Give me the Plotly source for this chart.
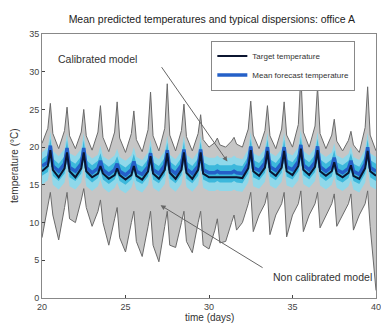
import plotly.graph_objects as go

# time grid: each day sampled at night, morning rise, midday peak, evening fall
days = list(range(20, 40))
phases = [0.0, 0.35, 0.5, 0.65]
t = [d + p for d in days for p in phases] + [40]

target = [
    16.8, 17.5, 19.6, 17.0,  16.0, 17.2, 19.3, 16.8,  16.0, 17.2, 19.3, 16.8,
    16.0, 16.5, 17.5, 16.5,  15.8, 16.3, 17.2, 16.3,  15.7, 16.3, 17.5, 16.2,
    15.7, 16.8, 18.8, 16.5,  15.8, 17.0, 19.2, 16.6,  15.8, 17.0, 19.3, 16.6,
    15.8, 17.0, 19.3, 16.5,  16.0, 16.0, 16.1, 16.0,  16.0, 16.0, 16.1, 16.0,
    15.9, 17.2, 19.6, 16.8,  16.2, 17.3, 19.5, 16.8,  16.2, 17.3, 19.5, 16.8,
    16.3, 17.5, 19.8, 17.0,  16.3, 17.4, 19.6, 16.8,  16.2, 16.8, 18.0, 16.5,
    16.0, 16.6, 17.6, 16.2,  15.8, 17.2, 19.5, 16.8,  16.2]

mean_forecast = [
    17.5, 18.0, 20.2, 17.5,  16.8, 17.8, 19.9, 17.3,  16.8, 17.8, 19.9, 17.3,
    16.6, 17.2, 18.2, 17.0,  16.4, 17.0, 17.8, 16.8,  16.3, 17.0, 18.1, 16.8,
    16.4, 17.4, 19.2, 17.0,  16.5, 17.6, 19.6, 17.1,  16.5, 17.6, 19.7, 17.1,
    16.5, 17.5, 19.7, 17.0,  16.6, 16.6, 16.8, 16.6,  16.6, 16.6, 16.8, 16.6,
    16.5, 17.8, 20.1, 17.3,  16.9, 17.9, 20.0, 17.4,  16.9, 17.9, 20.0, 17.4,
    17.0, 18.1, 20.3, 17.6,  17.0, 18.0, 20.1, 17.4,  16.8, 17.4, 18.6, 17.0,
    16.6, 17.2, 18.2, 16.8,  16.4, 17.8, 20.0, 17.3,  16.8]

calib_outer_hi = [
    19.3, 20.0, 22.0, 19.5,  18.8, 19.8, 21.8, 19.2,  18.8, 19.8, 21.8, 19.2,
    18.5, 19.0, 20.2, 18.8,  18.3, 18.9, 19.8, 18.7,  18.2, 18.9, 20.0, 18.7,
    18.3, 19.3, 21.0, 18.9,  18.4, 19.5, 21.5, 19.0,  18.4, 19.5, 21.5, 19.0,
    18.4, 19.4, 21.5, 18.9,  18.6, 18.6, 18.9, 18.6,  18.6, 18.6, 18.9, 18.6,
    18.4, 19.7, 22.0, 19.2,  18.8, 19.8, 21.9, 19.3,  18.8, 19.8, 21.9, 19.3,
    18.9, 20.0, 22.3, 19.5,  18.9, 19.9, 22.0, 19.3,  18.7, 19.3, 20.5, 18.9,
    18.5, 19.1, 20.1, 18.7,  18.3, 19.7, 21.9, 19.2,  18.7]

calib_outer_lo = [
    15.0, 15.6, 17.5, 15.0,  14.4, 15.3, 17.2, 14.8,  14.4, 15.3, 17.2, 14.8,
    14.2, 14.8, 15.7, 14.6,  14.0, 14.6, 15.3, 14.4,  13.9, 14.6, 15.6, 14.4,
    14.0, 15.0, 16.6, 14.6,  14.1, 15.1, 17.0, 14.7,  14.1, 15.1, 17.0, 14.7,
    14.1, 15.0, 17.0, 14.6,  14.2, 14.2, 14.4, 14.2,  14.2, 14.2, 14.4, 14.2,
    14.1, 15.3, 17.4, 14.8,  14.5, 15.4, 17.3, 14.9,  14.5, 15.4, 17.3, 14.9,
    14.6, 15.6, 17.6, 15.1,  14.6, 15.5, 17.4, 14.9,  14.4, 15.0, 16.1, 14.6,
    14.2, 14.8, 15.7, 14.4,  14.0, 15.3, 17.3, 14.8,  14.4]

calib_inner_hi = [
    18.4, 19.0, 21.1, 18.5,  17.8, 18.8, 20.9, 18.3,  17.8, 18.8, 20.9, 18.3,
    17.6, 18.2, 19.2, 18.0,  17.4, 18.0, 18.8, 17.8,  17.3, 18.0, 19.1, 17.8,
    17.4, 18.4, 20.2, 18.0,  17.5, 18.6, 20.6, 18.1,  17.5, 18.6, 20.7, 18.1,
    17.5, 18.5, 20.7, 18.0,  17.6, 17.6, 17.8, 17.6,  17.6, 17.6, 17.8, 17.6,
    17.5, 18.8, 21.1, 18.3,  17.9, 18.9, 21.0, 18.4,  17.9, 18.9, 21.0, 18.4,
    18.0, 19.1, 21.3, 18.6,  18.0, 19.0, 21.1, 18.4,  17.8, 18.4, 19.6, 18.0,
    17.6, 18.2, 19.2, 17.8,  17.4, 18.8, 21.0, 18.3,  17.8]

calib_inner_lo = [
    16.2, 16.7, 18.8, 16.2,  15.5, 16.5, 18.5, 16.0,  15.5, 16.5, 18.5, 16.0,
    15.3, 15.9, 16.9, 15.7,  15.1, 15.7, 16.5, 15.5,  15.0, 15.7, 16.8, 15.5,
    15.1, 16.1, 17.9, 15.7,  15.2, 16.3, 18.3, 15.8,  15.2, 16.3, 18.4, 15.8,
    15.2, 16.2, 18.4, 15.7,  15.3, 15.3, 15.5, 15.3,  15.3, 15.3, 15.5, 15.3,
    15.2, 16.5, 18.8, 16.0,  15.6, 16.6, 18.7, 16.1,  15.6, 16.6, 18.7, 16.1,
    15.7, 16.8, 19.0, 16.3,  15.7, 16.7, 18.8, 16.1,  15.5, 16.1, 17.3, 15.7,
    15.3, 15.9, 16.9, 15.5,  15.1, 16.5, 18.7, 16.0,  15.5]

noncal_hi = [
    20.5, 22.5, 25.8, 21.8,  19.8, 22.2, 25.3, 21.5,  19.8, 22.0, 25.0, 21.5,
    19.6, 22.0, 25.5, 21.3,  19.4, 22.0, 26.0, 21.2,  19.3, 21.8, 24.8, 21.0,
    19.4, 22.3, 27.3, 21.5,  19.5, 22.5, 28.4, 21.6,  19.5, 22.2, 25.7, 21.4,
    19.5, 21.8, 24.3, 21.0,  20.0, 20.6, 21.2, 20.3,  20.0, 20.8, 21.3, 20.4,
    20.0, 22.4, 26.1, 21.6,  19.8, 22.2, 25.5, 21.5,  19.8, 22.4, 26.0, 21.6,
    20.0, 23.0, 29.7, 22.0,  20.0, 22.8, 28.0, 21.8,  19.8, 21.6, 23.7, 20.8,
    19.5, 20.9, 22.1, 20.3,  19.3, 22.6, 28.0, 21.6,  19.5]

noncal_lo = [
    8.0, 12.0, 14.0, 11.0,   7.7, 12.0, 14.0, 10.5,  10.0, 13.0, 14.5, 12.0,
    9.5, 11.5, 13.0, 10.0,   7.0, 10.5, 12.0, 8.0,   6.1, 10.0, 11.5, 7.5,
    5.5, 9.5, 11.5, 7.0,     4.8, 9.5, 11.5, 7.0,    6.7, 10.0, 11.5, 7.5,
    6.0, 10.0, 11.5, 7.0,    6.5, 9.0, 10.5, 7.3,    7.5, 10.0, 11.0, 9.0,
    10.0, 12.5, 14.0, 8.8,   11.0, 12.5, 14.0, 8.4,  11.0, 12.5, 14.0, 8.1,
    11.0, 12.5, 14.2, 8.8,   11.0, 12.5, 14.0, 9.3,  11.0, 12.5, 13.8, 9.5,
    11.0, 12.5, 13.8, 9.0,   11.0, 12.5, 14.2, 9.5,  1.0]

x_ticks = [20, 25, 30, 35, 40]
y_ticks = [0, 5, 10, 15, 20, 25, 30, 35]

FONT = "Arial, Liberation Sans, sans-serif"

fig = go.Figure()

# non calibrated model dispersion (gray)
fig.add_trace(go.Scatter(x=t, y=noncal_lo, mode="lines",
                         line=dict(color="#6a6a6a", width=1), showlegend=False, hoverinfo="skip"))
fig.add_trace(go.Scatter(x=t, y=noncal_hi, mode="lines", fill="tonexty",
                         fillcolor="#c6c6c6", line=dict(color="#6a6a6a", width=1),
                         showlegend=False, hoverinfo="skip"))
# calibrated model dispersion (cyan)
fig.add_trace(go.Scatter(x=t, y=calib_outer_lo, mode="lines",
                         line=dict(width=0, color="#8fd8ea"), showlegend=False, hoverinfo="skip"))
fig.add_trace(go.Scatter(x=t, y=calib_outer_hi, mode="lines", fill="tonexty",
                         fillcolor="#8fd8ea", line=dict(width=0, color="#8fd8ea"),
                         showlegend=False, hoverinfo="skip"))
fig.add_trace(go.Scatter(x=t, y=calib_inner_lo, mode="lines",
                         line=dict(width=0, color="#3cb8dc"), showlegend=False, hoverinfo="skip"))
fig.add_trace(go.Scatter(x=t, y=calib_inner_hi, mode="lines", fill="tonexty",
                         fillcolor="#3cb8dc", line=dict(width=0, color="#3cb8dc"),
                         showlegend=False, hoverinfo="skip"))
# mean forecast and target
fig.add_trace(go.Scatter(x=t, y=mean_forecast, mode="lines", name="Mean forecast temperature",
                         line=dict(color="#2460c8", width=3.5), legendrank=2))
fig.add_trace(go.Scatter(x=t, y=target, mode="lines", name="Target temperature",
                         line=dict(color="#0b1530", width=2), legendrank=1))

# the page body has an 8px margin, so the figure is 8px smaller on each side used
fig.update_layout(
    width=381, height=316,
    margin=dict(l=34, r=8, t=26, b=26),
    paper_bgcolor="white", plot_bgcolor="white",
    font=dict(family=FONT, size=9, color="#333"),
    title=dict(text="Mean predicted temperatures and typical dispersions: office A",
               x=0.535, xanchor="center", y=0.965, yanchor="middle",
               font=dict(size=10.5, color="#222")),
    showlegend=True,
    legend=dict(x=0.507, y=0.975, xanchor="left", yanchor="top",
                traceorder="normal",
                bgcolor="white", bordercolor="#888", borderwidth=1,
                font=dict(size=8, color="#333"), tracegroupgap=0,
                itemwidth=30),
    xaxis=dict(range=[20, 40], tickvals=x_ticks, ticks="inside", ticklen=3,
               showline=True, mirror=True, linecolor="#888", linewidth=1,
               showgrid=False, zeroline=False, tickfont=dict(size=9, color="#444")),
    yaxis=dict(range=[0, 35], tickvals=y_ticks, ticks="inside", ticklen=3,
               showline=True, mirror=True, linecolor="#888", linewidth=1,
               showgrid=False, zeroline=False, tickfont=dict(size=9, color="#444")),
)

# axis titles
fig.add_annotation(x=0.5, y=0, xref="paper", yref="paper", yshift=-19,
                   text="time (days)", showarrow=False, yanchor="middle",
                   font=dict(size=10, color="#333"))
fig.add_annotation(x=0, y=0.5, xref="paper", yref="paper", xshift=-28,
                   text="temperature (°C)", showarrow=False, textangle=-90,
                   xanchor="center", yanchor="middle", font=dict(size=10, color="#333"))

fig.add_annotation(x=23.3, y=31.7, xref="x", yref="y", text="Calibrated model",
                   showarrow=False, font=dict(size=10.5, color="#333"))
fig.add_annotation(x=31.1, y=18.1, xref="x", yref="y", ax=27.1, ay=30.8,
                   axref="x", ayref="y", text="", showarrow=True,
                   arrowhead=2, arrowsize=1, arrowwidth=1, arrowcolor="#666")
fig.add_annotation(x=36.8, y=2.8, xref="x", yref="y", text="Non calibrated model",
                   showarrow=False, font=dict(size=10.5, color="#333"))
fig.add_annotation(x=27.1, y=12.3, xref="x", yref="y", ax=33.3, ay=3.9,
                   axref="x", ayref="y", text="", showarrow=True,
                   arrowhead=2, arrowsize=1, arrowwidth=1, arrowcolor="#666")

fig.write_html("out.html")
